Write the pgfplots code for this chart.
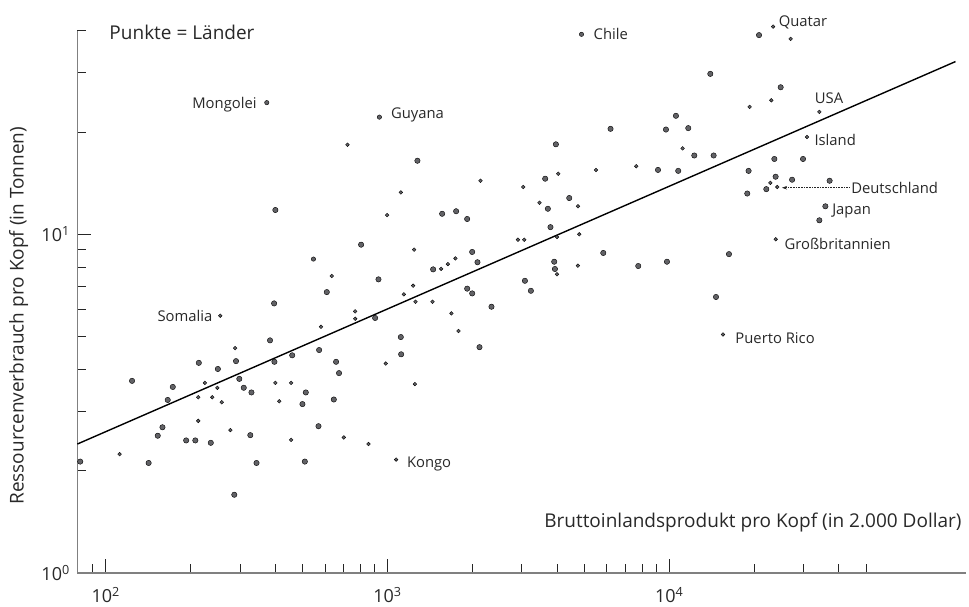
\documentclass[border=0pt]{standalone}
\usepackage{fontspec}
\setmainfont{Open Sans}
\usepackage{pgfplots}
\usepackage{pgfplotstable}
\pgfplotsset{compat=1.18}
\usetikzlibrary{arrows.meta}
\definecolor{dotgray}{RGB}{98,98,102}
\definecolor{axgray}{RGB}{128,128,128}
\definecolor{txt}{RGB}{40,40,40}
\newcommand{\lab}{\fontsize{14.8}{16}\selectfont}
\newcommand{\bigf}{\fontsize{19}{22}\selectfont}

% BIP pro Kopf, Ressourcenverbrauch pro Kopf
\pgfplotstableread{
x y
400 11.8
609 6.75
396 6.25
383 4.86
572 4.55
124 3.69
290 4.22
214 4.17
397 4.20
459 4.39
250 4.0
298 3.74
173 3.54
309 3.52
329 3.41
513 3.41
166 3.24
499 3.15
159 2.69
569 2.71
153 2.54
326 2.55
193 2.46
208 2.46
236 2.42
81.2 2.13
142 2.11
343 2.11
509 2.13
286 1.70
6188 20.5
3960 18.45
1277 16.5
9119 15.5
3628 14.6
4416 12.8
3709 11.9
1563 11.5
1752 11.7
1918 11.1
3788 10.5
806 9.32
1998 8.87
5832 8.81
1452 7.88
2086 8.27
3906 8.30
3929 7.90
7762 8.06
929 7.36
1918 6.91
1998 6.69
3074 7.29
3228 6.81
2339 6.11
904 5.66
1115 4.97
2121 4.64
657 4.20
1118 4.42
673 3.89
645 3.25
20820 38.8
13985 29.8
24850 27.2
10560 22.4
9734 20.4
11680 20.6
12270 17.1
14370 17.1
23600 16.7
29830 16.7
10760 15.4
19120 15.4
23850 14.8
27280 14.5
37070 14.4
22100 13.6
18920 13.2
35810 12.1
34090 11.0
16290 8.74
9813 8.30
14650 6.53
}\largedots

\pgfplotstableread{
x y
373 24.5
4882 39.0
936 22.2
546 8.45
}\meddots

\pgfplotstableread{
x y
634 7.53
255 5.75
581 5.33
288 4.61
225 3.64
400 3.64
455 3.64
249 3.52
213 3.30
239 3.30
258 3.19
413 3.21
213 2.81
277 2.64
455 2.47
112 2.24
721 18.4
4036 15.1
5493 15.5
7636 15.9
2138 14.4
3031 13.8
1115 13.3
3464 12.4
4741 12.1
997 11.4
3993 9.82
2903 9.64
3056 9.64
4792 10.0
1243 9.01
1743 8.49
1638 8.17
1550 7.91
3993 7.62
4741 8.08
1233 7.05
1143 6.65
1257 6.32
1444 6.32
768 5.92
768 5.63
1687 5.84
1786 5.18
986 4.15
1251 3.61
700 2.51
856 2.40
1073 2.16
23350 41.1
26960 37.8
23030 24.9
19280 23.8
34090 23.0
30830 19.4
11150 17.95
22840 14.2
24180 13.8
23850 9.67
15510 5.06
}\smalldots

\begin{document}
\begin{tikzpicture}
\begin{axis}[
  at={(0pt,0pt)}, anchor=south west,
  scale only axis, width=888.7pt, height=542.1pt,
  xmode=log, ymode=log,
  xmin=79.3, xmax=113000, ymin=1, ymax=40,
  axis lines*=left,
  axis line style={draw=axgray, line width=1.6pt},
  clip=false,
  tick align=inside,
  major tick length=14pt, minor tick length=9pt,
  tick style={draw=black!85, line width=0.9pt},
  xtick={100,1000,10000},
  xticklabels={10\textsuperscript{2},10\textsuperscript{3},10\textsuperscript{4}},
  minor xtick={90,200,300,400,500,600,700,800,900,2000,3000,4000,5000,6000,7000,8000,9000,20000,30000,40000,50000},
  ytick={1,10},
  yticklabels={10\textsuperscript{0},10\textsuperscript{1}},
  minor ytick={2,3,4,5,6,7,8,9,20,30,40},
  tick label style={font=\fontsize{18}{20}\selectfont, text=txt},
  xticklabel style={yshift=-11pt},
  yticklabel style={xshift=-4pt},
  xlabel={Bruttoinlandsprodukt pro Kopf (in 2.000 Dollar)},
  xlabel style={at={(rel axis cs:0.9952,0.0825)}, anchor=base east, font=\bigf, text=txt, inner sep=0pt},
  ylabel={Ressourcenverbrauch pro Kopf (in Tonnen)},
  ylabel style={at={(rel axis cs:-0.0605,0.474)}, anchor=base, font=\bigf, text=txt, inner sep=0pt},
]
\addplot[only marks, mark=*, mark size=2.7pt, mark options={fill=dotgray, draw=none}] table {\largedots};
\addplot[only marks, mark=*, mark size=2.2pt, mark options={fill=dotgray, draw=none}] table {\meddots};
\addplot[only marks, mark=*, mark size=1.85pt, mark options={fill=dotgray, draw=none}] table {\smalldots};
\addplot[black, line width=1.4pt] coordinates {(79.3,2.40) (103700,32.4)};

\node[anchor=base west, inner sep=0pt, font=\bigf, text=txt] at (rel axis cs:0.036,0.9827) {Punkte = Länder};

\begin{scope}[every node/.style={inner sep=0pt, font=\lab, text=txt}]
\node[anchor=east, xshift=-10pt, yshift=-2pt] at (axis cs:373,24.5) {Mongolei};
\node[anchor=west, xshift=11.4pt, yshift=2pt] at (axis cs:936,22.2) {Guyana};
\node[anchor=west, xshift=12pt] at (axis cs:4882,39.0) {Chile};
\node[anchor=base west, xshift=5.6pt] at (axis cs:23350,41.1) {Quatar};
\node[anchor=base west, xshift=-4.7pt, yshift=8.7pt] at (axis cs:34090,23.0) {USA};
\node[anchor=west, xshift=7.3pt, yshift=-3.3pt] at (axis cs:30830,19.4) {Island};
\node[anchor=west] at (axis cs:44180,13.73) {Deutschland};
\node[anchor=west, xshift=6.7pt, yshift=-5pt] at (axis cs:35810,12.1) {Japan};
\node[anchor=west, xshift=8.7pt, yshift=-5pt] at (axis cs:23850,9.67) {Großbritannien};
\node[anchor=east, xshift=-7.7pt] at (axis cs:255,5.75) {Somalia};
\node[anchor=west, xshift=10.7pt, yshift=-4pt] at (axis cs:1073,2.16) {Kongo};
\node[anchor=west, xshift=12.3pt, yshift=-3.5pt] at (axis cs:15510,5.06) {Puerto Rico};
\end{scope}
\draw[black!85, line width=0.6pt, densely dotted, -{Stealth[length=5pt, width=3.5pt]}] (axis cs:43570,13.73) -- (axis cs:25120,13.73);
\end{axis}
\pgfresetboundingbox
\path[use as bounding box] (-77.3pt,-33.3pt) rectangle (891.7pt,572.7pt);
\end{tikzpicture}
\end{document}
